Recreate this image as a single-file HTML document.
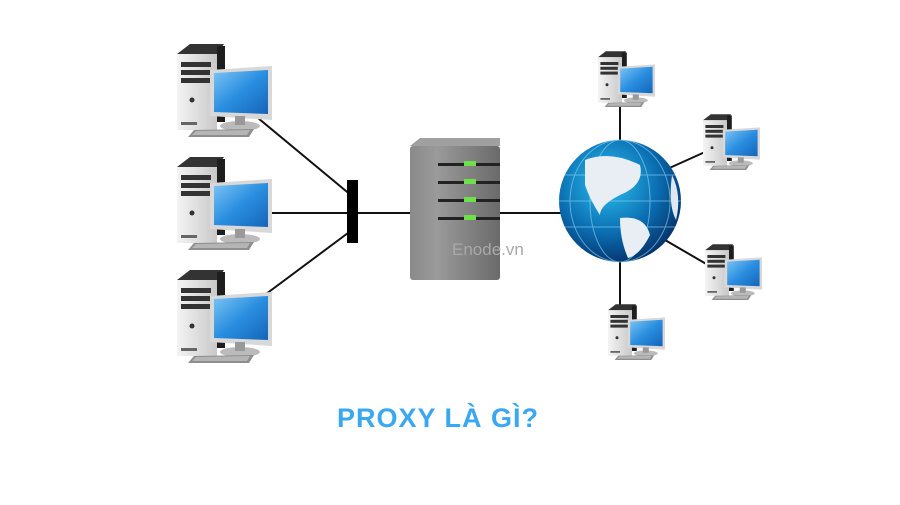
<!DOCTYPE html>
<html><head><meta charset="utf-8"><style>
html,body{margin:0;padding:0;background:#fff;}
body{width:900px;height:500px;position:relative;overflow:hidden;font-family:"Liberation Sans",sans-serif;}
</style></head><body>
<svg width="900" height="500" viewBox="0 0 900 500" xmlns="http://www.w3.org/2000/svg">
<defs>
<linearGradient id="scr" x1="0" y1="0" x2="1" y2="1"><stop offset="0" stop-color="#7cc4f4"/><stop offset="0.5" stop-color="#2a8ee0"/><stop offset="1" stop-color="#1565b8"/></linearGradient>
<linearGradient id="tw" x1="0" y1="0" x2="1" y2="0"><stop offset="0" stop-color="#f4f4f4"/><stop offset="1" stop-color="#c8c8c8"/></linearGradient>
<radialGradient id="gl" cx="0.4" cy="0.35" r="0.7"><stop offset="0" stop-color="#2bc0f0"/><stop offset="0.6" stop-color="#0a6cb0"/><stop offset="1" stop-color="#052e66"/></radialGradient>
<linearGradient id="sv" x1="0" y1="0" x2="1" y2="0"><stop offset="0" stop-color="#8a8a8a"/><stop offset="0.3" stop-color="#9a9a9a"/><stop offset="1" stop-color="#6a6a6a"/></linearGradient>
<g id="pc">
<polygon points="5,12 18,2 52,2 45,12" fill="#333"/>
<rect x="45" y="4" width="8" height="76" fill="#1e1e1e"/>
<rect x="5" y="12" width="40" height="76" fill="url(#tw)"/>
<rect x="9" y="20" width="30" height="5" fill="#333"/>
<rect x="9" y="28" width="30" height="5" fill="#333"/>
<rect x="9" y="36" width="30" height="5" fill="#333"/>
<circle cx="20" cy="58" r="2.5" fill="#333"/>
<rect x="9" y="80" width="16" height="3" fill="#666"/>
<polygon points="38,28 100,24 100,78 38,74" fill="#d8d8d8"/>
<polygon points="42,31 96,28 96,72 42,70" fill="url(#scr)"/>
<ellipse cx="68" cy="84" rx="20" ry="5" fill="#bbb"/>
<rect x="63" y="74" width="10" height="9" fill="#999"/>
<polygon points="22,88 82,87 77,95 16,95" fill="#8e8e8e"/>
<polygon points="24,89 78,88 75,93 20,93" fill="#b5b5b5"/>
</g>
</defs>
<g stroke="#111" stroke-width="2" fill="none">
<line x1="258" y1="118" x2="352" y2="196"/>
<line x1="270" y1="213" x2="352" y2="213"/>
<line x1="258" y1="300" x2="352" y2="230"/>
<line x1="358" y1="213" x2="412" y2="213"/>
<line x1="500" y1="213" x2="565" y2="213"/>
<line x1="620" y1="105" x2="620" y2="145"/>
<line x1="665" y1="170" x2="705" y2="152"/>
<line x1="665" y1="240" x2="708" y2="265"/>
<line x1="620" y1="255" x2="620" y2="308"/>
</g>
<rect x="347" y="180" width="11" height="63" fill="#000"/>
<use href="#pc" transform="translate(172,42)"/>
<use href="#pc" transform="translate(172,155)"/>
<use href="#pc" transform="translate(172,268)"/>
<use href="#pc" transform="translate(595,50) scale(0.6)"/>
<use href="#pc" transform="translate(700,113) scale(0.6)"/>
<use href="#pc" transform="translate(702,243) scale(0.6)"/>
<use href="#pc" transform="translate(605,303) scale(0.6)"/>
<polygon points="410,146 420,138 500,138 500,146" fill="#a0a0a0"/>
<rect x="410" y="146" width="90" height="134" rx="3" fill="url(#sv)"/>
<g fill="#222"><rect x="438" y="163" width="62" height="3"/><rect x="438" y="181" width="62" height="3"/><rect x="438" y="199" width="62" height="3"/><rect x="438" y="217" width="62" height="3"/></g>
<g fill="#6ee04a"><rect x="464" y="161" width="12" height="5"/><rect x="464" y="179" width="12" height="5"/><rect x="464" y="197" width="12" height="5"/><rect x="464" y="215" width="12" height="5"/></g>
<text x="452" y="255" font-size="17" fill="#a8a8a8">Enode.vn</text>
<circle cx="620" cy="201" r="61" fill="url(#gl)"/>
<g stroke="#8fd6f5" stroke-width="1" fill="none" opacity="0.6">
<ellipse cx="620" cy="201" rx="30" ry="61"/><ellipse cx="620" cy="201" rx="50" ry="61"/>
<line x1="559" y1="201" x2="681" y2="201"/><line x1="565" y1="175" x2="675" y2="175"/><line x1="565" y1="227" x2="675" y2="227"/>
</g>
<path d="M585,160 Q610,150 640,165 Q645,185 620,195 Q600,205 600,215 Q590,200 585,185 Z" fill="#e8eef4"/>
<path d="M620,218 Q645,215 650,235 Q640,255 628,258 Q620,240 620,218 Z" fill="#e8eef4"/>
<path d="M672,175 Q682,195 676,220 Q668,205 672,175 Z" fill="#dfe8f0"/>
<text x="438" y="427" font-size="27" font-weight="bold" letter-spacing="1" fill="#3aa8f0" text-anchor="middle" font-family="Liberation Sans, sans-serif">PROXY LÀ GÌ?</text>
</svg>
</body></html>
